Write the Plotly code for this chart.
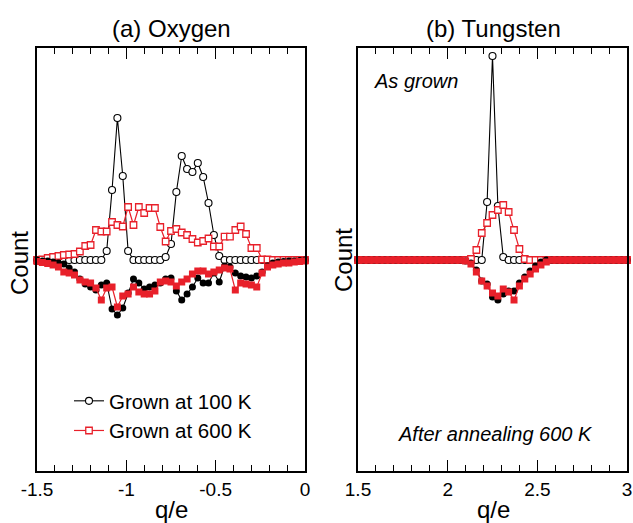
import plotly.graph_objects as go

# ---------------- data ----------------
# bin grids (q/e), step 0.03
Q_OXYGEN = [round(-1.5 + 0.03 * i, 2) for i in range(51)]
Q_TUNGSTEN = [round(1.5 + 0.03 * i, 2) for i in range(51)]

# Oxygen, as grown (positive side)
O_GROWN_100K = [0, 0, 0, 0, 0, 0, 0, 0, 0, 0,
                0, 0, 0, 9, 70, 142, 84, 9, 0, 0,
                0, 0, 0, 0, 3, 16, 68, 104, 91, 88,
                97, 83, 57, 25, 4, 0, 0, 0, 0, 0,
                0, 0, 0, 0, 0, 0, 0, 0, 0, 0, 0]
O_GROWN_600K = [0, 0.5, 2, 3, 4, 5, 5.5, 6, 8.5, 14,
                15, 30, 28.5, 28.5, 38, 35, 33.5, 53, 35, 53,
                47, 52, 52, 33, 18.5, 29, 31, 27.5, 25, 21,
                17.5, 19, 21.5, 13.5, 13.5, 23.3, 23.3, 30, 33.5, 26,
                12, 12, 0.5, 0.5, 0, 0, 0, 0, 0, 0, 0]
# Oxygen, after annealing at 600 K (negative side)
O_ANNEAL_100K = [0, -1, -1, -2, -3, -4, -8, -12, -19, -24,
                 -27, -30, -25, -23, -49, -55, -48, -33, -19, -23,
                 -29, -27, -25, -23, -19, -18, -31, -40, -34, -27,
                 -18, -23, -23, -13, -22, -6, -7, -13, -16, -17,
                 -18, -16, -12, -6, -3, -2, -1.5, -1, -1, -0.5, 0]
O_ANNEAL_600K = [-1.5, -2.5, -3.5, -5, -7, -12, -13, -15, -20, -22,
                 -23, -28, -40, -28, -27, -47, -36, -34, -27, -32,
                 -34, -34, -31, -22, -21, -22, -26, -22, -19, -14,
                 -11, -11, -14, -12, -10, -8, -9, -30, -23, -24,
                 -25, -27, -13, -7, -5, -4, -3, -3, -2, -1.5, -1]

# Tungsten, as grown
W_GROWN_100K = [0] * 24 + [58, 204, 54, 3] + [0] * 23
W_GROWN_600K = [0] * 21 + [1, 10, 27, 37, 45, 50, 55, 48, 30, 11, 1] + [0] * 19
# Tungsten, after annealing
W_ANNEAL_100K = [0] * 20 + [-1, -3, -10, -21, -24, -37, -40, -34, -31, -31,
                            -23, -17, -11, -6, -2] + [0] * 16
W_ANNEAL_600K = [0] * 20 + [-1, -4, -12, -21, -26, -33, -36, -29, -32, -40,
                            -26, -19, -14, -9, -5, -2] + [0] * 15

LEGEND_NAMES = ["Grown at 100 K", "Grown at 600 K"]
PANEL_TITLES = ["(a) Oxygen", "(b) Tungsten"]
O_TICKS = [-1.5, -1, -0.5, 0]
O_TICKTEXT = ["-1.5", "-1", "-0.5", "0"]
W_TICKS = [1.5, 2, 2.5, 3]
W_TICKTEXT = ["1.5", "2", "2.5", "3"]

# ---------------- figure ----------------
W, H = 633, 523
BLACK = "#000000"
RED = "#e8202a"
FONT = "Liberation Sans, Arial, sans-serif"

def px_x(p):
    return p / W

def px_y(p):
    return 1 - p / H

fig = go.Figure()

def add_series(x, y, xa, ya, kind, name=None, legend=False):
    if kind == "open_circle":
        marker = dict(symbol="circle", size=7, color="white",
                      line=dict(color=BLACK, width=1.1))
        line = dict(color=BLACK, width=1.1)
    elif kind == "open_square":
        marker = dict(symbol="square", size=6.5, color="white",
                      line=dict(color=RED, width=1.3))
        line = dict(color=RED, width=1.2)
    elif kind == "filled_circle":
        marker = dict(symbol="circle", size=7, color=BLACK,
                      line=dict(width=0))
        line = dict(color=BLACK, width=1.1)
    else:
        marker = dict(symbol="square", size=7, color=RED,
                      line=dict(width=0))
        line = dict(color=RED, width=1.2)
    fig.add_trace(go.Scatter(x=x, y=y, xaxis=xa, yaxis=ya, mode="lines+markers",
                             marker=marker, line=line, name=name,
                             showlegend=legend, cliponaxis=False))

add_series(Q_OXYGEN, O_GROWN_100K, "x", "y", "open_circle", LEGEND_NAMES[0], True)
add_series(Q_OXYGEN, O_GROWN_600K, "x", "y", "open_square", LEGEND_NAMES[1], True)
add_series(Q_OXYGEN, O_ANNEAL_100K, "x", "y", "filled_circle")
add_series(Q_OXYGEN, O_ANNEAL_600K, "x", "y", "filled_square")

add_series(Q_TUNGSTEN, W_GROWN_100K, "x2", "y2", "open_circle")
add_series(Q_TUNGSTEN, W_GROWN_600K, "x2", "y2", "open_square")
add_series(Q_TUNGSTEN, W_ANNEAL_100K, "x2", "y2", "filled_circle")
add_series(Q_TUNGSTEN, W_ANNEAL_600K, "x2", "y2", "filled_square")

YRANGE = [-211, 212]
ydom = [px_y(471), px_y(48)]

def xaxis_cfg(domain, rng, tv, tt, anchor):
    return dict(domain=domain, range=rng, anchor=anchor, automargin=False,
                tickvals=tv, ticktext=tt, ticks="inside", ticklen=11,
                tickwidth=1.2, tickcolor=BLACK,
                minor=dict(dtick=0.1, tick0=rng[0], ticks="inside", ticklen=6,
                           tickwidth=1.2, tickcolor=BLACK, showgrid=False),
                showline=True, linecolor=BLACK, linewidth=1.5, mirror="ticks",
                showgrid=False, zeroline=False,
                tickfont=dict(family=FONT, size=19, color=BLACK),
                ticklabelstandoff=0)

def yaxis_cfg(anchor):
    return dict(domain=ydom, range=YRANGE, anchor=anchor, automargin=False,
                showticklabels=False, ticks="", showline=True, linecolor=BLACK,
                linewidth=1.5, mirror=True, showgrid=False, zeroline=False)

fig.update_layout(
    template="none",
    width=W, height=H,
    margin=dict(l=0, r=0, t=0, b=0, pad=0, autoexpand=False),
    paper_bgcolor="white", plot_bgcolor="white",
    font=dict(family=FONT, color=BLACK),
    xaxis=xaxis_cfg([px_x(37), px_x(305)], [-1.5, 0], O_TICKS, O_TICKTEXT, "y"),
    yaxis=yaxis_cfg("x"),
    xaxis2=xaxis_cfg([px_x(358), px_x(627)], [1.5, 3], W_TICKS, W_TICKTEXT, "y2"),
    yaxis2=yaxis_cfg("x2"),
    legend=dict(x=px_x(69), y=px_y(381), xanchor="left", yanchor="top",
                bgcolor="rgba(0,0,0,0)", borderwidth=0,
                font=dict(family=FONT, size=20.5, color=BLACK),
                itemwidth=30, tracegroupgap=0),
    showlegend=True,
)

annotations = [
    dict(text=PANEL_TITLES[0], x=px_x(171), y=px_y(29), font=dict(size=24)),
    dict(text=PANEL_TITLES[1], x=px_x(493), y=px_y(29), font=dict(size=24)),
    dict(text="q/e", x=px_x(171), y=px_y(509), font=dict(size=24)),
    dict(text="q/e", x=px_x(493), y=px_y(509), font=dict(size=24)),
    dict(text="Count", x=px_x(19), y=px_y(263), textangle=-90, font=dict(size=24)),
    dict(text="Count", x=px_x(343), y=px_y(260), textangle=-90, font=dict(size=24)),
    dict(text="<i>As grown</i>", x=px_x(372), y=px_y(81), xanchor="left",
         font=dict(size=20)),
    dict(text="<i>After annealing 600 K</i>", x=px_x(495), y=px_y(434),
         font=dict(size=20)),
]
for a in annotations:
    a.setdefault("xanchor", "center")
    a.update(xref="paper", yref="paper", yanchor="middle", showarrow=False)
    a["font"] = dict(family=FONT, color=BLACK, **a["font"])
fig.update_layout(annotations=annotations)

fig.write_html(
    "out.html",
    config={"displayModeBar": False},
    post_script="document.body.style.margin='0';document.body.style.overflow='hidden';",
)
